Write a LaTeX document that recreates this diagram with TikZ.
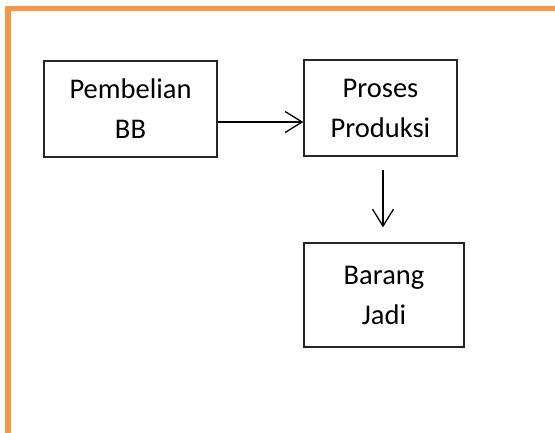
\documentclass[tikz,border=0pt]{standalone}
\usepackage{fontspec}
\setmainfont{Carlito}
\usepackage{tikz}
\usetikzlibrary{arrows.meta}
\definecolor{frameorange}{HTML}{F79646}
\definecolor{boxline}{HTML}{262626}

\begin{document}
\begin{tikzpicture}[x=1pt,y=1pt,
    box/.style={draw=boxline,line width=1.3pt,align=center,inner sep=0pt,
      font=\fontsize{28.5}{40}\selectfont},
    flow/.style={draw=black,line width=1.3pt,-{Straight Barb[length=17pt,width=21pt,line width=1.3pt]}}]
  \useasboundingbox (0,0) rectangle (555,432);
  \clip (0,0) rectangle (555,432);
  \draw[frameorange,line width=5.5pt] (8,423.5) rectangle (620,-60);
  \node[box,minimum width=173pt,minimum height=96pt] (beli) at (130.5,323) {Pembelian\\BB};
  \node[box,minimum width=153pt,minimum height=96pt] (proses) at (380.5,324) {Proses\\Produksi};
  \node[box,minimum width=160pt,minimum height=104pt] (jadi) at (384,137) {Barang\\Jadi};
  \coordinate (belikeluar) at ([yshift=-13pt]beli.east);
  \coordinate (proseskeluar) at ([xshift=2.5pt]proses.south);
  \draw[flow] (belikeluar) -- (proses.west |- belikeluar);
  \draw[flow,shorten <=13pt,shorten >=15pt] (proseskeluar) -- (proseskeluar |- jadi.north);
\end{tikzpicture}
\end{document}
